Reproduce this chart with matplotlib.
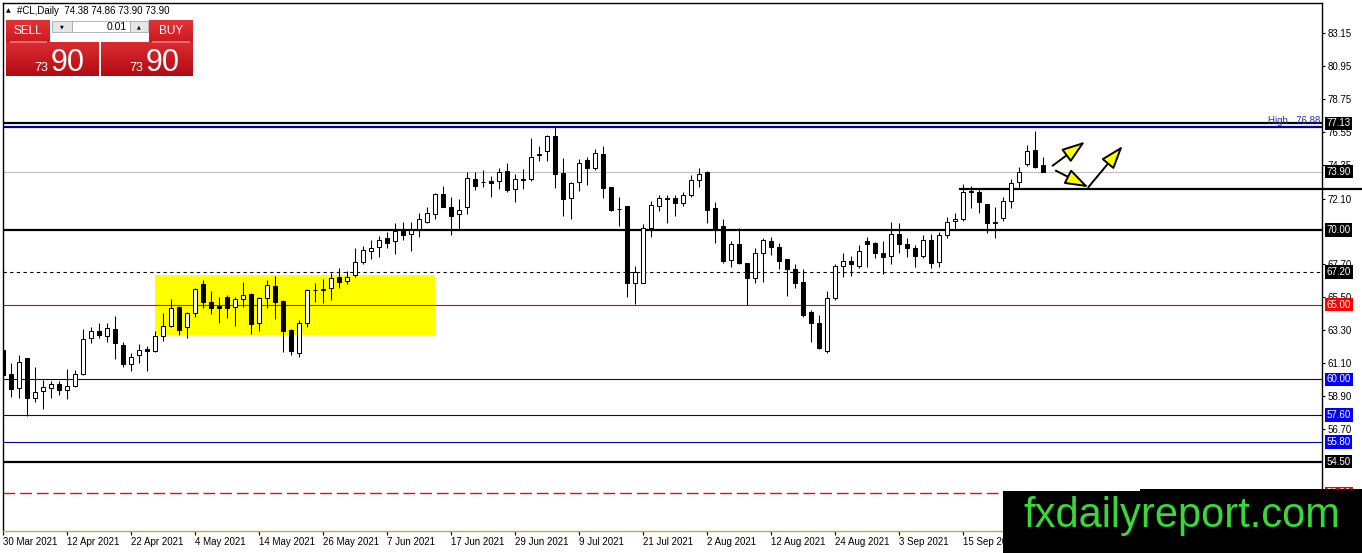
import matplotlib
matplotlib.use("Agg")
import matplotlib.pyplot as plt
import numpy as np
from matplotlib.patches import Rectangle, FancyArrowPatch

plt.rcParams["font.family"] = ["Liberation Sans", "DejaVu Sans"]

# daily OHLC, one bar per trading day starting 30 Mar 2021
opens = [61.97, 60.36, 59.41, 61.43, 58.76, 59.22, 59.42, 59.69, 59.29, 59.56,
         60.36, 62.77, 63.24, 62.90, 63.37, 62.30, 61.03, 61.63, 62.03, 61.90,
         62.92, 63.57, 64.85, 63.51, 64.44, 66.38, 65.18, 64.88, 65.52, 64.85,
         65.38, 65.72, 63.78, 65.45, 66.25, 65.25, 63.31, 61.77, 63.78, 65.95,
         65.98, 66.12, 66.85, 66.59, 66.99, 67.88, 68.61, 68.86, 69.46, 69.26,
         69.93, 69.73, 70.07, 70.55, 71.07, 72.41, 71.54, 71.07, 71.52, 73.41,
         73.22, 73.28, 73.28, 73.95, 72.74, 73.37, 73.41, 75.00, 75.29, 76.28,
         73.82, 72.12, 73.19, 74.69, 74.13, 75.09, 72.86, 71.42, 71.61, 66.47,
         66.43, 70.11, 71.61, 72.17, 72.17, 71.81, 72.34, 73.35, 73.90, 71.45,
         70.27, 67.99, 69.04, 67.77, 66.77, 68.44, 69.26, 68.84, 68.06, 67.39,
         66.54, 64.51, 63.78, 61.90, 65.45, 67.59, 67.93, 67.61, 69.26, 69.11,
         68.44, 68.26, 69.71, 69.04, 68.78, 68.28, 69.33, 67.88, 69.67, 70.60,
         70.72, 72.61, 72.52, 71.72, 70.52, 70.78, 71.94, 73.19, 74.42, 75.35,
         74.38]
highs = [62.10, 61.10, 61.63, 61.45, 60.81, 59.96, 59.92, 59.90, 60.70, 60.63,
         63.37, 63.51, 63.78, 63.78, 64.24, 62.50, 61.77, 62.37, 62.24, 63.24,
         64.44, 65.38, 64.90, 64.51, 66.10, 66.65, 65.92, 65.52, 65.65, 65.52,
         66.52, 65.75, 65.52, 66.65, 66.92, 65.28, 63.35, 63.98, 66.05, 66.45,
         66.70, 67.13, 67.46, 67.26, 68.78, 68.93, 69.33, 69.60, 69.89, 70.49,
         70.55, 70.55, 71.14, 71.54, 72.46, 72.95, 72.19, 72.05, 73.90, 73.90,
         74.02, 73.61, 74.13, 74.46, 73.75, 74.06, 76.14, 75.62, 76.36, 76.88,
         74.80, 73.22, 74.73, 74.90, 75.40, 75.62, 72.88, 72.19, 71.63, 67.59,
         70.40, 71.94, 72.34, 72.34, 72.34, 72.56, 73.68, 74.13, 73.92, 71.88,
         70.72, 69.28, 70.11, 67.81, 68.78, 69.44, 69.55, 69.11, 68.06, 67.72,
         67.37, 64.64, 64.31, 65.92, 67.72, 68.44, 68.26, 69.00, 69.55, 69.20,
         69.28, 70.51, 70.44, 69.44, 69.00, 69.67, 69.71, 69.89, 70.89, 71.12,
         73.06, 72.95, 72.79, 71.74, 71.52, 72.19, 73.39, 74.24, 75.69, 76.63,
         74.86]
lows = [59.29, 58.82, 58.77, 57.55, 58.49, 58.00, 58.76, 58.96, 58.69, 59.50,
        60.29, 62.44, 62.77, 62.50, 61.37, 60.83, 60.56, 61.10, 60.58, 61.84,
        62.57, 63.51, 62.97, 62.77, 64.20, 64.80, 64.38, 63.78, 64.11, 63.57,
        64.85, 63.04, 63.24, 64.78, 64.04, 61.84, 61.63, 61.50, 63.51, 65.18,
        65.12, 65.31, 66.12, 66.38, 66.85, 67.72, 68.06, 68.19, 68.78, 68.39,
        69.33, 68.61, 69.53, 70.49, 70.72, 71.52, 69.67, 70.00, 71.07, 72.68,
        72.88, 72.21, 72.74, 72.56, 71.88, 72.74, 73.28, 74.62, 74.62, 72.83,
        70.94, 70.72, 72.63, 73.01, 74.02, 72.16, 71.29, 70.27, 65.52, 65.05,
        66.43, 69.51, 71.29, 70.49, 70.94, 71.61, 72.19, 72.86, 70.49, 69.11,
        67.77, 67.52, 67.72, 64.98, 66.47, 66.54, 68.33, 67.37, 65.58, 66.14,
        64.20, 62.50, 62.03, 61.77, 65.31, 66.85, 66.92, 67.44, 67.54, 68.12,
        67.06, 67.72, 68.44, 68.19, 67.54, 68.15, 67.48, 67.54, 69.44, 70.00,
        70.60, 71.45, 71.12, 69.82, 69.44, 70.60, 71.49, 72.81, 74.28, 74.13,
        73.90]
closes = [60.29, 59.36, 61.16, 58.76, 59.16, 59.49, 59.69, 59.29, 59.56, 60.36,
          62.70, 63.24, 62.97, 63.44, 62.44, 61.03, 61.50, 61.97, 61.90, 62.92,
          63.57, 64.78, 63.31, 64.44, 66.05, 65.18, 64.78, 64.75, 64.78, 65.38,
          65.65, 63.71, 65.45, 66.32, 65.18, 63.24, 61.90, 63.78, 65.98, 66.00,
          66.05, 66.79, 66.52, 66.85, 67.88, 68.66, 68.81, 69.33, 69.11, 69.95,
          69.67, 70.00, 70.74, 71.14, 72.41, 71.54, 70.94, 71.34, 73.46, 72.97,
          73.18, 73.15, 73.90, 72.68, 73.41, 73.41, 74.87, 75.06, 76.28, 73.75,
          72.05, 73.15, 74.49, 74.13, 75.13, 72.83, 71.34, 71.38, 66.47, 67.21,
          70.11, 71.67, 72.12, 72.08, 71.79, 72.34, 73.35, 73.73, 71.34, 70.05,
          67.94, 69.04, 67.77, 66.77, 68.44, 69.33, 68.84, 67.94, 67.37, 66.47,
          64.31, 63.78, 62.10, 65.45, 67.59, 67.93, 67.72, 68.59, 69.04, 68.44,
          68.19, 69.71, 69.04, 68.82, 68.28, 69.33, 67.81, 69.67, 70.55, 70.74,
          72.52, 72.52, 71.85, 70.45, 70.45, 71.94, 73.12, 73.86, 75.29, 74.24,
          73.90]

date_labels = ["30 Mar 2021", "12 Apr 2021", "22 Apr 2021", "4 May 2021",
               "14 May 2021", "26 May 2021", "7 Jun 2021", "17 Jun 2021",
               "29 Jun 2021", "9 Jul 2021", "21 Jul 2021", "2 Aug 2021",
               "12 Aug 2021", "24 Aug 2021", "3 Sep 2021", "15 Sep 2021"]
bars_per_label = 8

price_ticks = [83.15, 80.95, 78.75, 76.55, 74.35, 72.10, 67.70, 65.50,
               63.30, 61.10, 58.90, 56.70]

# horizontal levels and the colour of their price tag on the axis
level_prices = [77.13, 73.90, 70.00, 67.20, 65.00, 60.00, 57.60, 55.80, 54.50, 52.36]
level_tags = ["black", "black", "black", "black", "#FF0000",
              "#0000FF", "#0000FF", "#0000FF", "black", "#FF0000"]
session_high = 76.88
trend_start_bar, trend_price = 119.6, 72.76
zone_bars = (19.0, 54.0)
zone_prices = (62.98, 66.97)
# hand-drawn arrows: (bar, price) -> (bar, price)
arrows = [((131.2, 74.30), (135.25, 75.91)),
          ((131.6, 73.97), (135.67, 72.86)),
          ((135.67, 72.86), (139.96, 75.62))]

W, H = 1362, 553
fig = plt.figure(figsize=(W / 100, H / 100), dpi=100)
ax = fig.add_axes([3 / W, 22 / H, 1319 / W, 528 / H])
ax.set_xlim(0, 164.875)
ax.set_ylim(49.85, 85.19)

o = np.array(opens); h = np.array(highs); l = np.array(lows); c = np.array(closes)
x = np.arange(len(o))
up = c >= o

# support / resistance lines
ax.axhline(level_prices[0], color="black", lw=1.6, zorder=2)
ax.axhline(session_high, color="#0000A0", lw=1.6, zorder=2)
ax.axhline(level_prices[1], color="#C0C0C0", lw=0.8, zorder=1)
ax.axhline(level_prices[2], color="black", lw=1.6, zorder=2)
ax.axhline(level_prices[3], color="black", lw=0.8, ls=(0, (3, 3)), zorder=2)
ax.axhline(level_prices[4], color="#E00000", lw=0.8, zorder=2)
for p in level_prices[5:8]:
    ax.axhline(p, color="#0000A0", lw=0.8, zorder=2)
ax.axhline(level_prices[8], color="black", lw=1.6, zorder=2)
ax.axhline(level_prices[9], color="#E01010", lw=1.0, ls=(0, (8.5, 3.5)), zorder=2)
ax.plot([trend_start_bar, 170], [trend_price, trend_price], color="black",
        lw=1.6, clip_on=False, zorder=2)

ax.add_patch(Rectangle((zone_bars[0], zone_prices[0]), zone_bars[1] - zone_bars[0],
                       zone_prices[1] - zone_prices[0], facecolor="#FFFF00",
                       edgecolor="none", zorder=0.5))

# candles
ax.vlines(x, l, h, color="black", lw=0.75, zorder=3)
ax.bar(x, np.abs(c - o), bottom=np.minimum(o, c), width=0.6,
       color=np.where(up, "white", "black"), edgecolor="black", linewidth=0.75,
       zorder=4)

for (a, b) in arrows:
    ax.add_patch(FancyArrowPatch(a, b, arrowstyle="-|>,head_length=1.3,head_width=0.45",
                                 mutation_scale=11, fc="#FFFF00", ec="black",
                                 lw=1.4, zorder=6, shrinkA=0, shrinkB=0))

ax.text(0.999, session_high + 0.05, "High   76.88", transform=ax.get_yaxis_transform(),
        ha="right", va="bottom", fontsize=7, color="#3030C0", zorder=5)

# axes / ticks
ax.yaxis.tick_right()
ax.set_yticks(price_ticks)
ax.set_yticklabels([f"{t:.2f}" for t in price_ticks])
ax.tick_params(axis="y", direction="out", length=2.2, width=0.8, labelsize=7, pad=1.6)
ax.set_xticks(np.arange(len(date_labels)) * bars_per_label)
ax.set_xticklabels(date_labels)
for t in ax.get_xticklabels():
    t.set_ha("left")
ax.tick_params(axis="x", direction="out", length=3, width=0.8, labelsize=7, pad=1.5)
for s in ("left", "top", "right"):
    ax.spines[s].set_color("black")
    ax.spines[s].set_linewidth(1.0)
ax.spines["bottom"].set_color("#D4A055")
ax.spines["bottom"].set_linewidth(1.0)

for p, col in zip(level_prices, level_tags):
    ax.text(1.0035, p, f"{p:.2f}", transform=ax.get_yaxis_transform(), ha="left",
            va="center", fontsize=7, color="white", clip_on=False, zorder=10,
            bbox=dict(boxstyle="square,pad=0.18", fc=col, ec="none"))


# ---- figure furniture (pixel coords, origin top-left) ----
def box(x0, y0, x1, y1, fc, ec="none", lw=0.0):
    fig.add_artist(Rectangle((x0 / W, 1 - y1 / H), (x1 - x0) / W, (y1 - y0) / H,
                             transform=fig.transFigure, fc=fc, ec=ec, lw=lw))


def red_box(x0, y0, x1, y1, top=(0.86, 0.17, 0.19), bot=(0.70, 0.04, 0.07)):
    n = int(round(y1 - y0))
    for k in range(n):
        t = k / max(n - 1, 1)
        col = tuple(top[j] + (bot[j] - top[j]) * t for j in range(3))
        box(x0, y0 + k, x1, y0 + k + 1.05, col)


def ftext(px, py, s, **kw):
    fig.text(px / W, 1 - py / H, s, **kw)


ftext(6, 11, "▲", fontsize=4.5, va="center", family=["DejaVu Sans"])
ftext(17, 11, "#CL,Daily  74.38 74.86 73.90 73.90", fontsize=7, va="center")

red_box(6, 20, 50, 42, top=(0.88, 0.20, 0.22), bot=(0.80, 0.10, 0.12))
red_box(6, 42, 99, 76)
red_box(149, 20, 193, 42, top=(0.88, 0.20, 0.22), bot=(0.80, 0.10, 0.12))
red_box(101, 42, 193, 76)
box(10, 41.5, 47, 42.5, "#E86A6A")
box(152, 41.5, 190, 42.5, "#E86A6A")
box(52, 21, 72, 32, "#E6E6E6", ec="#A8A8A8", lw=0.6)
box(72, 21, 130, 32, "white", ec="#A8A8A8", lw=0.6)
box(130, 21, 148, 32, "#E6E6E6", ec="#A8A8A8", lw=0.6)
ftext(28, 31, "SELL", fontsize=8.5, color="white", ha="center", va="center")
ftext(171, 31, "BUY", fontsize=8.5, color="white", ha="center", va="center")
ftext(127, 27, "0.01", fontsize=7.5, color="black", ha="right", va="center")
ftext(62, 27, "▼", fontsize=3.5, ha="center", va="center", family=["DejaVu Sans"])
ftext(139, 27, "▲", fontsize=3.5, ha="center", va="center", family=["DejaVu Sans"])
ftext(48, 71, "73", fontsize=9, color="white", ha="right", va="baseline")
ftext(51, 71, "90", fontsize=22, color="white", ha="left", va="baseline")
ftext(143, 71, "73", fontsize=9, color="white", ha="right", va="baseline")
ftext(146, 71, "90", fontsize=22, color="white", ha="left", va="baseline")

# watermark
box(1003, 491, 1142, H, "black")
box(1140, 489, W, H, "black")
ftext(1182, 527, "fxdailyreport.com", fontsize=30, color="#38D838",
      ha="center", va="baseline")

fig.savefig("out.png", dpi=100, facecolor="white")
